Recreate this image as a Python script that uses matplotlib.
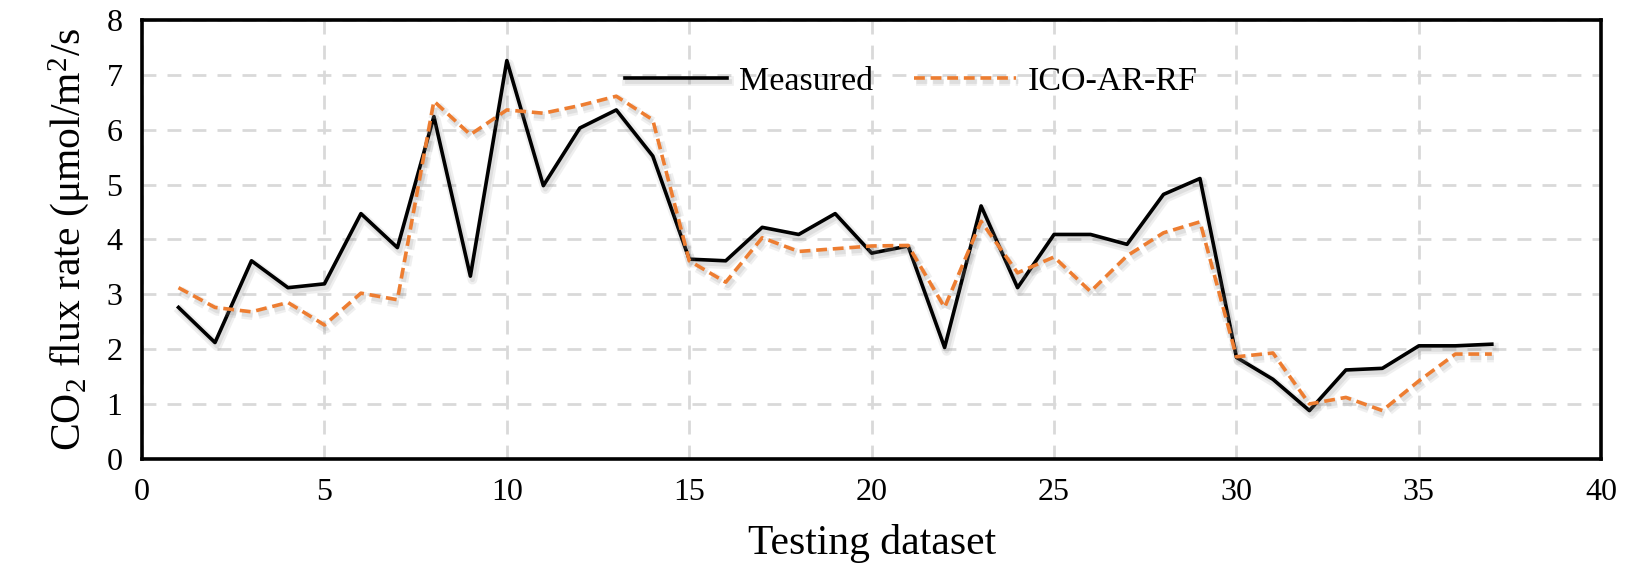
import numpy as np
import matplotlib.pyplot as plt
import matplotlib.patheffects as pe

plt.rcParams['font.family'] = ['Liberation Serif', 'DejaVu Serif']
plt.rcParams['mathtext.default'] = 'regular'

# testing samples
sample = np.arange(1, 38)

measured = [2.76, 2.12, 3.61, 3.12, 3.19, 4.47, 3.85, 6.24, 3.33, 7.26,
            4.98, 6.03, 6.36, 5.52, 3.64, 3.61, 4.22, 4.09, 4.47, 3.75,
            3.88, 2.03, 4.61, 3.12, 4.09, 4.09, 3.91, 4.82, 5.11, 1.85,
            1.45, 0.88, 1.62, 1.65, 2.06, 2.06, 2.09]

predicted = [3.12, 2.76, 2.68, 2.85, 2.44, 3.02, 2.90, 6.52, 5.91, 6.36,
             6.30, 6.44, 6.61, 6.18, 3.61, 3.22, 4.03, 3.78, 3.83, 3.88,
             3.89, 2.76, 4.33, 3.39, 3.68, 3.05, 3.70, 4.12, 4.32, 1.86,
             1.93, 1.00, 1.12, 0.88, 1.42, 1.91, 1.91]

fig = plt.figure(figsize=(16.44, 5.70), dpi=100)
ax = fig.add_axes([0.0864, 0.195, 0.8876, 0.770])

# soft excel-like shadow under the lines
shadow = [pe.SimpleLineShadow(offset=(1.5, -2.5), shadow_color='gray', alpha=0.12, linewidth=7),
          pe.SimpleLineShadow(offset=(1.5, -2.5), shadow_color='gray', alpha=0.15, linewidth=3.5),
          pe.Normal()]

ax.plot(sample, measured, color='black', lw=2.6, label='Measured', path_effects=shadow)
ax.plot(sample, predicted, color='#ED7D31', lw=2.6, ls=(0, (3, 1.6)), label='ICO-AR-RF',
        path_effects=shadow)

ax.set_xlim(0, 40)
ax.set_ylim(0, 8)
ax.set_xticks(np.arange(0, 41, 5))
ax.set_yticks(np.arange(0, 9, 1))
ax.grid(True, color='#d9d9d9', ls=(0, (5, 4)), lw=2)
ax.set_axisbelow(True)
ax.tick_params(length=0, labelsize=23, pad=14)
for s in ax.spines.values():
    s.set_linewidth(2.6)
    s.set_color('black')

ax.set_xlabel('Testing dataset', fontsize=30, labelpad=12)
ax.set_ylabel('CO$_2$ flux rate (μmol/m$^2$/s', fontsize=30, labelpad=11)

ax.legend(loc='center', bbox_to_anchor=(0.527, 0.86), ncol=2, frameon=False,
          fontsize=24.5, handlelength=3.0, handletextpad=0.35, columnspacing=1.2)

fig.savefig('out.png', dpi=100)
